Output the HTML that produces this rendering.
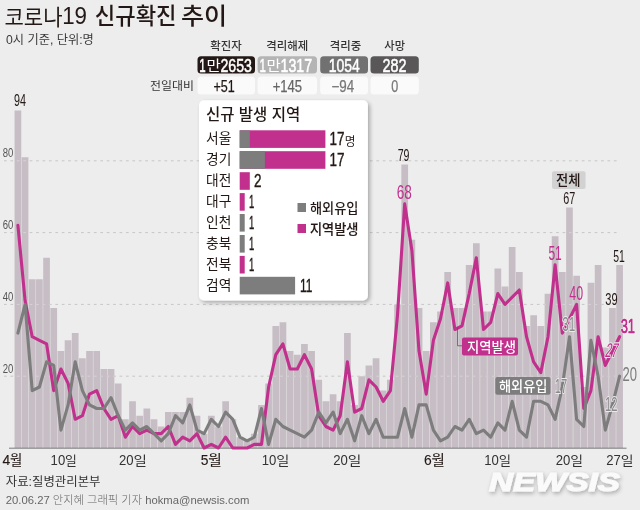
<!DOCTYPE html>
<html lang="ko"><head><meta charset="utf-8"><title>코로나19 신규확진 추이</title>
<style>html,body{margin:0;padding:0;background:#ededed}svg{display:block}</style></head>
<body>
<svg width="640" height="510" viewBox="0 0 640 510" font-family='"Liberation Sans","Noto Sans CJK KR",sans-serif'>
<defs><filter id="sh" x="-10%" y="-10%" width="125%" height="125%"><feGaussianBlur in="SourceAlpha" stdDeviation="2.2"/><feOffset dx="1.8" dy="1.5"/><feComponentTransfer><feFuncA type="linear" slope="0.3"/></feComponentTransfer><feMerge><feMergeNode/><feMergeNode in="SourceGraphic"/></feMerge></filter>
<filter id="sh2" x="-10%" y="-30%" width="120%" height="170%"><feGaussianBlur in="SourceAlpha" stdDeviation="2.2"/><feOffset dx="0.6" dy="1.6"/><feComponentTransfer><feFuncA type="linear" slope="0.3"/></feComponentTransfer><feMerge><feMergeNode/><feMergeNode in="SourceGraphic"/></feMerge></filter></defs>
<rect width="640" height="510" fill="#ededed"/>
<line x1="4" x2="619" y1="376.2" y2="376.2" stroke="#c6c6c6" stroke-width="1" stroke-dasharray="2.7 3.72"/>
<line x1="4" x2="619" y1="304.4" y2="304.4" stroke="#c6c6c6" stroke-width="1" stroke-dasharray="2.7 3.72"/>
<line x1="4" x2="619" y1="232.6" y2="232.6" stroke="#c6c6c6" stroke-width="1" stroke-dasharray="2.7 3.72"/>
<line x1="4" x2="619" y1="160.8" y2="160.8" stroke="#c6c6c6" stroke-width="1" stroke-dasharray="2.7 3.72"/>
<defs><path id="bars" d="M14.55 110.54h6.72v337.46h-6.72zM21.71 157.21h6.72v290.79h-6.72zM28.88 279.27h6.72v168.73h-6.72zM36.04 279.27h6.72v168.73h-6.72zM43.20 257.73h6.72v190.27h-6.72zM50.36 307.99h6.72v140.01h-6.72zM57.53 351.07h6.72v96.93h-6.72zM64.69 340.30h6.72v107.70h-6.72zM71.85 333.12h6.72v114.88h-6.72zM79.02 358.25h6.72v89.75h-6.72zM86.18 351.07h6.72v96.93h-6.72zM93.34 351.07h6.72v96.93h-6.72zM100.51 369.02h6.72v78.98h-6.72zM107.67 369.02h6.72v78.98h-6.72zM114.83 383.38h6.72v64.62h-6.72zM122.00 419.28h6.72v28.72h-6.72zM129.16 401.33h6.72v46.67h-6.72zM136.32 415.69h6.72v32.31h-6.72zM143.48 408.51h6.72v39.49h-6.72zM150.65 419.28h6.72v28.72h-6.72zM157.81 426.46h6.72v21.54h-6.72zM164.97 412.10h6.72v35.90h-6.72zM172.14 412.10h6.72v35.90h-6.72zM179.30 412.10h6.72v35.90h-6.72zM186.46 397.74h6.72v50.26h-6.72zM193.63 415.69h6.72v32.31h-6.72zM200.79 433.64h6.72v14.36h-6.72zM207.95 415.69h6.72v32.31h-6.72zM215.11 426.46h6.72v21.54h-6.72zM222.28 401.33h6.72v46.67h-6.72zM229.44 419.28h6.72v28.72h-6.72zM236.60 437.23h6.72v10.77h-6.72zM243.77 440.82h6.72v7.18h-6.72zM250.93 433.64h6.72v14.36h-6.72zM258.09 404.92h6.72v43.08h-6.72zM265.25 383.38h6.72v64.62h-6.72zM272.42 325.94h6.72v122.06h-6.72zM279.58 322.35h6.72v125.65h-6.72zM286.74 351.07h6.72v96.93h-6.72zM293.91 354.66h6.72v93.34h-6.72zM301.07 343.89h6.72v104.11h-6.72zM308.23 351.07h6.72v96.93h-6.72zM315.40 379.79h6.72v68.21h-6.72zM322.56 401.33h6.72v46.67h-6.72zM329.72 394.15h6.72v53.85h-6.72zM336.89 401.33h6.72v46.67h-6.72zM344.05 333.12h6.72v114.88h-6.72zM351.21 404.92h6.72v43.08h-6.72zM358.37 376.20h6.72v71.80h-6.72zM365.54 365.43h6.72v82.57h-6.72zM372.70 358.25h6.72v89.75h-6.72zM379.86 390.56h6.72v57.44h-6.72zM387.03 379.79h6.72v68.21h-6.72zM394.19 304.40h6.72v143.60h-6.72zM401.35 164.39h6.72v283.61h-6.72zM408.52 239.78h6.72v208.22h-6.72zM415.68 307.99h6.72v140.01h-6.72zM422.84 351.07h6.72v96.93h-6.72zM430.00 322.35h6.72v125.65h-6.72zM437.17 311.58h6.72v136.42h-6.72zM444.33 272.09h6.72v175.91h-6.72zM451.49 307.99h6.72v140.01h-6.72zM458.66 307.99h6.72v140.01h-6.72zM465.82 264.91h6.72v183.09h-6.72zM472.98 243.37h6.72v204.63h-6.72zM480.15 311.58h6.72v136.42h-6.72zM487.31 311.58h6.72v136.42h-6.72zM494.47 268.50h6.72v179.50h-6.72zM501.63 286.45h6.72v161.55h-6.72zM508.80 246.96h6.72v201.04h-6.72zM515.96 272.09h6.72v175.91h-6.72zM523.12 325.94h6.72v122.06h-6.72zM530.29 315.17h6.72v132.83h-6.72zM537.45 325.94h6.72v122.06h-6.72zM544.61 293.63h6.72v154.37h-6.72zM551.77 236.19h6.72v211.81h-6.72zM558.94 272.09h6.72v175.91h-6.72zM566.10 207.47h6.72v240.53h-6.72zM573.26 275.68h6.72v172.32h-6.72zM580.43 386.97h6.72v61.03h-6.72zM587.59 282.86h6.72v165.14h-6.72zM594.75 264.91h6.72v183.09h-6.72zM601.92 347.48h6.72v100.52h-6.72zM609.08 307.99h6.72v140.01h-6.72zM616.24 264.91h6.72v183.09h-6.72z"/><clipPath id="bc"><use href="#bars"/></clipPath></defs>
<use href="#bars" fill="#c6bec4"/>
<g clip-path="url(#bc)">
<line x1="4" x2="619" y1="376.2" y2="376.2" stroke="#d8d2d6" stroke-width="1" stroke-dasharray="2.7 3.72"/>
<line x1="4" x2="619" y1="304.4" y2="304.4" stroke="#d8d2d6" stroke-width="1" stroke-dasharray="2.7 3.72"/>
<line x1="4" x2="619" y1="232.6" y2="232.6" stroke="#d8d2d6" stroke-width="1" stroke-dasharray="2.7 3.72"/>
<line x1="4" x2="619" y1="160.8" y2="160.8" stroke="#d8d2d6" stroke-width="1" stroke-dasharray="2.7 3.72"/>
</g>
<text x="2.8" y="372.6" font-size="13.4" fill="#555" font-weight="normal" textLength="10.6" lengthAdjust="spacingAndGlyphs" >20</text>
<text x="2.8" y="300.8" font-size="13.4" fill="#555" font-weight="normal" textLength="10.6" lengthAdjust="spacingAndGlyphs" >40</text>
<text x="2.8" y="229.0" font-size="13.4" fill="#555" font-weight="normal" textLength="10.6" lengthAdjust="spacingAndGlyphs" >60</text>
<text x="2.8" y="157.2" font-size="13.4" fill="#555" font-weight="normal" textLength="10.6" lengthAdjust="spacingAndGlyphs" >80</text>
<line x1="9" x2="626.5" y1="448.2" y2="448.2" stroke="#6e6e6e" stroke-width="0.9"/>
<polyline points="17.9,225.4 25.1,300.8 32.2,336.7 39.4,340.3 46.6,343.9 53.7,390.6 60.9,369.0 68.1,383.4 75.2,419.3 82.4,415.7 89.5,394.1 96.7,390.6 103.9,408.5 111.0,419.3 118.2,415.7 125.4,437.2 132.5,426.5 139.7,433.6 146.8,430.1 154.0,433.6 161.2,433.6 168.3,426.5 175.5,444.4 182.7,437.2 189.8,440.8 197.0,433.6 204.1,448.0 211.3,444.4 218.5,448.0 225.6,437.2 232.8,448.0 240.0,448.0 247.1,448.0 254.3,444.4 261.5,444.4 268.6,387.0 275.8,354.7 282.9,343.9 290.1,369.0 297.3,369.0 304.4,354.7 311.6,369.0 318.8,415.7 325.9,426.5 333.1,430.1 340.2,415.7 347.4,361.8 354.6,412.1 361.7,408.5 368.9,379.8 376.1,387.0 383.2,401.3 390.4,390.6 397.5,315.2 404.7,203.9 411.9,250.6 419.0,351.1 426.2,394.1 433.4,340.3 440.5,318.8 447.7,282.9 454.9,329.5 462.0,325.9 469.2,293.6 476.3,257.7 483.5,329.5 490.7,322.4 497.8,293.6 505.0,304.4 512.2,297.2 519.3,290.0 526.5,336.7 533.6,361.8 540.8,372.6 548.0,336.7 555.1,264.9 562.3,333.1 569.5,318.8 576.6,304.4 583.8,408.5 590.9,390.6 598.1,336.7 605.3,365.4 612.4,351.1 619.6,336.7" fill="none" stroke="#c1308d" stroke-width="3.1" stroke-linejoin="round" stroke-linecap="round"/>
<polyline points="17.9,333.1 25.1,304.4 32.2,390.6 39.4,387.0 46.6,361.8 53.7,365.4 60.9,430.1 68.1,404.9 75.2,361.8 82.4,390.6 89.5,404.9 96.7,408.5 103.9,408.5 111.0,397.7 118.2,415.7 125.4,430.1 132.5,422.9 139.7,430.1 146.8,426.5 154.0,433.6 161.2,440.8 168.3,433.6 175.5,415.7 182.7,422.9 189.8,404.9 197.0,430.1 204.1,433.6 211.3,419.3 218.5,426.5 225.6,412.1 232.8,419.3 240.0,437.2 247.1,440.8 254.3,437.2 261.5,408.5 268.6,444.4 275.8,419.3 282.9,426.5 290.1,430.1 297.3,433.6 304.4,437.2 311.6,430.1 318.8,412.1 325.9,422.9 333.1,412.1 340.2,433.6 347.4,419.3 354.6,440.8 361.7,415.7 368.9,433.6 376.1,419.3 383.2,437.2 390.4,437.2 397.5,437.2 404.7,408.5 411.9,437.2 419.0,404.9 426.2,404.9 433.4,430.1 440.5,440.8 447.7,437.2 454.9,426.5 462.0,430.1 469.2,419.3 476.3,433.6 483.5,430.1 490.7,437.2 497.8,422.9 505.0,430.1 512.2,401.3 519.3,430.1 526.5,437.2 533.6,401.3 540.8,401.3 548.0,404.9 555.1,419.3 562.3,387.0 569.5,336.7 576.6,419.3 583.8,426.5 590.9,340.3 598.1,376.2 605.3,430.1 612.4,404.9 619.6,376.2" fill="none" stroke="#7d7d7d" stroke-width="3.1" stroke-linejoin="round" stroke-linecap="round"/>
<text x="14.0" y="105.7" font-size="16.4" fill="#231815" font-weight="normal" textLength="12.0" lengthAdjust="spacingAndGlyphs" >94</text>
<text x="397.7" y="160.6" font-size="16.4" fill="#231815" font-weight="normal" textLength="11.8" lengthAdjust="spacingAndGlyphs" >79</text>
<text x="396.8" y="199.2" font-size="19.8" fill="#c1308d" font-weight="normal" textLength="15.1" lengthAdjust="spacingAndGlyphs" >68</text>
<text x="563.3" y="204.2" font-size="16.2" fill="#231815" font-weight="normal" textLength="12.0" lengthAdjust="spacingAndGlyphs" >67</text>
<text x="548.4" y="259.8" font-size="19.6" fill="#c1308d" font-weight="normal" textLength="13.4" lengthAdjust="spacingAndGlyphs" >51</text>
<text x="569.3" y="299.7" font-size="19.6" fill="#c1308d" font-weight="normal" textLength="13.8" lengthAdjust="spacingAndGlyphs" >40</text>
<text x="613.2" y="262.4" font-size="16.3" fill="#231815" font-weight="normal" textLength="11.6" lengthAdjust="spacingAndGlyphs" >51</text>
<text x="605.3" y="304.9" font-size="16.5" fill="#231815" font-weight="normal" textLength="12.3" lengthAdjust="spacingAndGlyphs" >39</text>
<text x="562.2" y="331.3" font-size="19.6" fill="#8a8a8a" font-weight="normal" textLength="13.1" lengthAdjust="spacingAndGlyphs" stroke="#ece8ec" stroke-width="2" paint-order="stroke" stroke-linejoin="round">31</text>
<text x="554.7" y="392.7" font-size="19.6" fill="#8a8a8a" font-weight="normal" textLength="12.4" lengthAdjust="spacingAndGlyphs" stroke="#ece8ec" stroke-width="2" paint-order="stroke" stroke-linejoin="round">17</text>
<text x="605.0" y="411.0" font-size="19.8" fill="#8a8a8a" font-weight="normal" textLength="12.5" lengthAdjust="spacingAndGlyphs" stroke="#ece8ec" stroke-width="2" paint-order="stroke" stroke-linejoin="round">12</text>
<text x="622.5" y="381.0" font-size="20.3" fill="#7d7d7d" font-weight="normal" textLength="14.5" lengthAdjust="spacingAndGlyphs" >20</text>
<text transform="translate(604.5 356.7) skewX(-12)" font-size="19.8" fill="#c1308d" textLength="12.5" lengthAdjust="spacingAndGlyphs" stroke="#ece8ec" stroke-width="2" paint-order="stroke" stroke-linejoin="round">27</text>
<text x="620.7" y="333.4" font-size="21" fill="#c1308d" font-weight="normal" textLength="14.3" lengthAdjust="spacingAndGlyphs" stroke="#f0f0f0" stroke-width="1.6" paint-order="stroke">31</text>
<text x="620.7" y="333.4" font-size="21" fill="#c1308d" font-weight="normal" textLength="14.3" lengthAdjust="spacingAndGlyphs" stroke="#c1308d" stroke-width="0.45">31</text>
<rect x="552" y="171.3" width="33.6" height="17.8" rx="2" fill="#d2d2d2"/>
<text x="556.0" y="185.3" font-size="13.5" fill="#231815" font-weight="500" textLength="24.5" lengthAdjust="spacingAndGlyphs" >전체</text>
<polyline points="457.6,327.5 457.6,345.8 462,345.8" fill="none" stroke="#555" stroke-width="0.8"/>
<rect x="462" y="337.5" width="56" height="18" rx="2" fill="#c1308d"/>
<text x="467.0" y="351.6" font-size="13.5" fill="#fff" font-weight="500" textLength="49.0" lengthAdjust="spacingAndGlyphs" >지역발생</text>
<rect x="495.3" y="377" width="55.2" height="17.7" rx="2" fill="#7d7d7d"/>
<text x="499.0" y="391.0" font-size="13.5" fill="#fff" font-weight="500" textLength="48.5" lengthAdjust="spacingAndGlyphs" >해외유입</text>
<text x="2.6" y="464.6" font-size="14.2" fill="#231815" font-weight="normal" textLength="7.7" lengthAdjust="spacingAndGlyphs" stroke="#231815" stroke-width="0.12">4</text>
<text x="10.1" y="464.9" font-size="13.6" fill="#231815" font-weight="normal" textLength="12.3" lengthAdjust="spacingAndGlyphs" stroke="#231815" stroke-width="0.12">월</text>
<text x="50.6" y="464.6" font-size="14.2" fill="#333" font-weight="normal" textLength="14.6" lengthAdjust="spacingAndGlyphs" >10</text>
<text x="65.0" y="464.9" font-size="13" fill="#333" font-weight="normal" textLength="11.8" lengthAdjust="spacingAndGlyphs" >일</text>
<text x="119.0" y="464.6" font-size="14.2" fill="#333" font-weight="normal" textLength="14.6" lengthAdjust="spacingAndGlyphs" >20</text>
<text x="133.4" y="464.9" font-size="13" fill="#333" font-weight="normal" textLength="13.4" lengthAdjust="spacingAndGlyphs" >일</text>
<text x="200.8" y="464.6" font-size="14.2" fill="#231815" font-weight="normal" textLength="7.7" lengthAdjust="spacingAndGlyphs" stroke="#231815" stroke-width="0.12">5</text>
<text x="208.3" y="464.9" font-size="13.6" fill="#231815" font-weight="normal" textLength="13.5" lengthAdjust="spacingAndGlyphs" stroke="#231815" stroke-width="0.12">월</text>
<text x="261.8" y="464.6" font-size="14.2" fill="#333" font-weight="normal" textLength="14.6" lengthAdjust="spacingAndGlyphs" >10</text>
<text x="276.2" y="464.9" font-size="13" fill="#333" font-weight="normal" textLength="13.1" lengthAdjust="spacingAndGlyphs" >일</text>
<text x="333.3" y="464.6" font-size="14.2" fill="#333" font-weight="normal" textLength="14.6" lengthAdjust="spacingAndGlyphs" >20</text>
<text x="347.7" y="464.9" font-size="13" fill="#333" font-weight="normal" textLength="13.6" lengthAdjust="spacingAndGlyphs" >일</text>
<text x="424.0" y="464.6" font-size="14.2" fill="#231815" font-weight="normal" textLength="7.7" lengthAdjust="spacingAndGlyphs" stroke="#231815" stroke-width="0.12">6</text>
<text x="431.5" y="464.9" font-size="13.6" fill="#231815" font-weight="normal" textLength="13.3" lengthAdjust="spacingAndGlyphs" stroke="#231815" stroke-width="0.12">월</text>
<text x="484.3" y="464.6" font-size="14.2" fill="#333" font-weight="normal" textLength="14.6" lengthAdjust="spacingAndGlyphs" >10</text>
<text x="498.7" y="464.9" font-size="13" fill="#333" font-weight="normal" textLength="12.3" lengthAdjust="spacingAndGlyphs" >일</text>
<text x="555.8" y="464.6" font-size="14.2" fill="#333" font-weight="normal" textLength="14.6" lengthAdjust="spacingAndGlyphs" >20</text>
<text x="570.2" y="464.9" font-size="13" fill="#333" font-weight="normal" textLength="12.8" lengthAdjust="spacingAndGlyphs" >일</text>
<text x="606.3" y="464.6" font-size="14.2" fill="#333" font-weight="normal" textLength="14.6" lengthAdjust="spacingAndGlyphs" >27</text>
<text x="620.7" y="464.9" font-size="13" fill="#333" font-weight="normal" textLength="12.8" lengthAdjust="spacingAndGlyphs" >일</text>
<text x="5.8" y="486.3" font-size="12" fill="#333" font-weight="normal" textLength="94.7" lengthAdjust="spacingAndGlyphs" >자료:질병관리본부</text>
<text x="5.8" y="504.3" font-size="11.3" fill="#666" font-weight="300" textLength="243.5" lengthAdjust="spacingAndGlyphs" >20.06.27 안지혜 그래픽 기자 hokma@newsis.com</text>
<text x="489" y="491" font-size="26.3" font-weight="bold" font-style="italic" fill="#fafafa" stroke="#fafafa" stroke-width="1.1" filter="url(#sh2)" textLength="131" lengthAdjust="spacingAndGlyphs" font-family='"Liberation Sans",sans-serif'>NEWSIS</text>
<text x="4.4" y="24.5" font-size="22" fill="#231815" font-weight="normal" textLength="58.2" lengthAdjust="spacingAndGlyphs" >코로나</text>
<text x="62.2" y="24.1" font-size="24" fill="#231815" font-weight="normal" textLength="24.8" lengthAdjust="spacingAndGlyphs" >19</text>
<text x="94.7" y="24.3" font-size="22.3" fill="#231815" font-weight="500" textLength="81.9" lengthAdjust="spacingAndGlyphs" >신규확진</text>
<text x="181.0" y="24.3" font-size="22.3" fill="#231815" font-weight="500" textLength="46.2" lengthAdjust="spacingAndGlyphs" >추이</text>
<text x="6.0" y="44.1" font-size="12.5" fill="#3a3a3a" font-weight="normal" textLength="87.8" lengthAdjust="spacingAndGlyphs" >0시 기준, 단위:명</text>
<text x="210.3" y="50.0" font-size="11.3" fill="#333" font-weight="500" textLength="31.5" lengthAdjust="spacingAndGlyphs" >확진자</text>
<rect x="197.5" y="56.2" width="57.5" height="17.3" rx="3.5" fill="#231815"/>
<text x="199.3" y="71.5" font-size="19" fill="#fff" font-weight="normal" textLength="6.4" lengthAdjust="spacingAndGlyphs" stroke="#fff" stroke-width="0.55">1</text>
<text x="206.5" y="70.5" font-size="14.5" fill="#fff" font-weight="normal" textLength="14.3" lengthAdjust="spacingAndGlyphs" >만</text>
<text x="220.5" y="71.5" font-size="19" fill="#fff" font-weight="normal" textLength="31.5" lengthAdjust="spacingAndGlyphs" stroke="#fff" stroke-width="0.55">2653</text>
<rect x="197.5" y="76.6" width="57.5" height="18" rx="3.5" fill="#fafafa"/>
<text x="213.4" y="91.8" font-size="15.7" fill="#231815" font-weight="normal" textLength="21.3" lengthAdjust="spacingAndGlyphs" stroke="#231815" stroke-width="0.25">+51</text>
<text x="266.2" y="50.0" font-size="11.3" fill="#333" font-weight="500" textLength="42.0" lengthAdjust="spacingAndGlyphs" >격리해제</text>
<rect x="257.6" y="56.2" width="59.4" height="17.3" rx="3.5" fill="#b4b4b4"/>
<text x="259.4" y="71.5" font-size="19" fill="#fff" font-weight="normal" textLength="6.4" lengthAdjust="spacingAndGlyphs" stroke="#fff" stroke-width="0.55">1</text>
<text x="266.6" y="70.5" font-size="14.5" fill="#fff" font-weight="normal" textLength="14.3" lengthAdjust="spacingAndGlyphs" >만</text>
<text x="280.6" y="71.5" font-size="19" fill="#fff" font-weight="normal" textLength="31.5" lengthAdjust="spacingAndGlyphs" stroke="#fff" stroke-width="0.55">1317</text>
<rect x="257.6" y="76.6" width="59.4" height="18" rx="3.5" fill="#fafafa"/>
<text x="272.7" y="91.8" font-size="15.7" fill="#666" font-weight="normal" textLength="29.4" lengthAdjust="spacingAndGlyphs" stroke="#666" stroke-width="0.25">+145</text>
<text x="329.8" y="50.0" font-size="11.3" fill="#333" font-weight="500" textLength="31.5" lengthAdjust="spacingAndGlyphs" >격리중</text>
<rect x="320.2" y="56.2" width="47.8" height="17.3" rx="3.5" fill="#727171"/>
<text x="328.8" y="71.5" font-size="19" fill="#fff" font-weight="normal" textLength="31.1" lengthAdjust="spacingAndGlyphs" stroke="#fff" stroke-width="0.55">1054</text>
<rect x="320.2" y="76.6" width="47.8" height="18" rx="3.5" fill="#fafafa"/>
<text x="331.5" y="91.8" font-size="15.7" fill="#777" font-weight="normal" textLength="22.7" lengthAdjust="spacingAndGlyphs" stroke="#777" stroke-width="0.25">−94</text>
<text x="384.3" y="50.0" font-size="11.3" fill="#333" font-weight="500" textLength="20.7" lengthAdjust="spacingAndGlyphs" >사망</text>
<rect x="370.5" y="56.2" width="48.3" height="17.3" rx="3.5" fill="#595757"/>
<text x="382.6" y="71.5" font-size="19" fill="#fff" font-weight="normal" textLength="24.0" lengthAdjust="spacingAndGlyphs" stroke="#fff" stroke-width="0.55">282</text>
<rect x="370.5" y="76.6" width="48.3" height="18" rx="3.5" fill="#fafafa"/>
<text x="391.2" y="91.8" font-size="15.7" fill="#777" font-weight="normal" textLength="7.0" lengthAdjust="spacingAndGlyphs" stroke="#777" stroke-width="0.25">0</text>
<text x="150.0" y="90.0" font-size="11.5" fill="#333" font-weight="normal" textLength="44.0" lengthAdjust="spacingAndGlyphs" >전일대비</text>
<rect x="199" y="100.3" width="168.9" height="200.1" rx="5" fill="#fff" filter="url(#sh)"/>
<text x="206" y="120" font-size="15.5" font-weight="500" fill="#231815">신규 발생 지역</text>
<text x="206.0" y="143.4" font-size="14.1" fill="#231815" font-weight="normal" textLength="25.3" lengthAdjust="spacingAndGlyphs" >서울</text>
<rect x="239.7" y="130.3" width="85.7" height="17.6" fill="#c1308d"/>
<rect x="239.7" y="130.3" width="10.1" height="17.6" fill="#7d7d7d"/>
<text x="329.6" y="145.4" font-size="18" fill="#231815" font-weight="normal" textLength="15.0" lengthAdjust="spacingAndGlyphs" stroke="#231815" stroke-width="0.4">17</text>
<text x="344.8" y="145.5" font-size="12" fill="#231815" font-weight="normal" textLength="10.7" lengthAdjust="spacingAndGlyphs" >명</text>
<text x="206.0" y="164.3" font-size="14.1" fill="#231815" font-weight="normal" textLength="25.3" lengthAdjust="spacingAndGlyphs" >경기</text>
<rect x="239.7" y="151.2" width="85.7" height="17.6" fill="#c1308d"/>
<rect x="239.7" y="151.2" width="25.2" height="17.6" fill="#7d7d7d"/>
<text x="329.6" y="166.3" font-size="18" fill="#231815" font-weight="normal" textLength="15.0" lengthAdjust="spacingAndGlyphs" stroke="#231815" stroke-width="0.4">17</text>
<text x="206.0" y="185.3" font-size="14.1" fill="#231815" font-weight="normal" textLength="25.3" lengthAdjust="spacingAndGlyphs" >대전</text>
<rect x="239.7" y="172.2" width="10.1" height="17.6" fill="#c1308d"/>
<text x="254.0" y="187.3" font-size="18" fill="#231815" font-weight="normal" textLength="7.5" lengthAdjust="spacingAndGlyphs" stroke="#231815" stroke-width="0.4">2</text>
<text x="206.0" y="206.2" font-size="14.1" fill="#231815" font-weight="normal" textLength="25.3" lengthAdjust="spacingAndGlyphs" >대구</text>
<rect x="239.7" y="193.1" width="5.0" height="17.6" fill="#c1308d"/>
<text x="248.9" y="208.2" font-size="18" fill="#231815" font-weight="normal" textLength="5.3" lengthAdjust="spacingAndGlyphs" stroke="#231815" stroke-width="0.4">1</text>
<text x="206.0" y="227.1" font-size="14.1" fill="#231815" font-weight="normal" textLength="25.3" lengthAdjust="spacingAndGlyphs" >인천</text>
<rect x="239.7" y="214.0" width="5.0" height="17.6" fill="#7d7d7d"/>
<text x="248.9" y="229.1" font-size="18" fill="#231815" font-weight="normal" textLength="5.3" lengthAdjust="spacingAndGlyphs" stroke="#231815" stroke-width="0.4">1</text>
<text x="206.0" y="248.1" font-size="14.1" fill="#231815" font-weight="normal" textLength="25.3" lengthAdjust="spacingAndGlyphs" >충북</text>
<rect x="239.7" y="235.0" width="5.0" height="17.6" fill="#7d7d7d"/>
<text x="248.9" y="250.1" font-size="18" fill="#231815" font-weight="normal" textLength="5.3" lengthAdjust="spacingAndGlyphs" stroke="#231815" stroke-width="0.4">1</text>
<text x="206.0" y="269.0" font-size="14.1" fill="#231815" font-weight="normal" textLength="25.3" lengthAdjust="spacingAndGlyphs" >전북</text>
<rect x="239.7" y="255.9" width="5.0" height="17.6" fill="#c1308d"/>
<text x="248.9" y="271.0" font-size="18" fill="#231815" font-weight="normal" textLength="5.3" lengthAdjust="spacingAndGlyphs" stroke="#231815" stroke-width="0.4">1</text>
<text x="206.0" y="289.9" font-size="14.1" fill="#231815" font-weight="normal" textLength="25.3" lengthAdjust="spacingAndGlyphs" >검역</text>
<rect x="239.7" y="276.8" width="55.4" height="17.6" fill="#7d7d7d"/>
<text x="300.1" y="291.9" font-size="18" fill="#231815" font-weight="normal" textLength="12.4" lengthAdjust="spacingAndGlyphs" stroke="#231815" stroke-width="0.4">11</text>
<rect x="297.5" y="203" width="8.5" height="9" fill="#7d7d7d"/>
<text x="310.0" y="213.0" font-size="13.3" fill="#231815" font-weight="500" textLength="48.5" lengthAdjust="spacingAndGlyphs" >해외유입</text>
<rect x="297.5" y="224" width="8.5" height="9" fill="#c1308d"/>
<text x="310.0" y="234.0" font-size="13.3" fill="#231815" font-weight="500" textLength="48.5" lengthAdjust="spacingAndGlyphs" stroke="#231815" stroke-width="0.12">지역발생</text>
</svg>
</body></html>
